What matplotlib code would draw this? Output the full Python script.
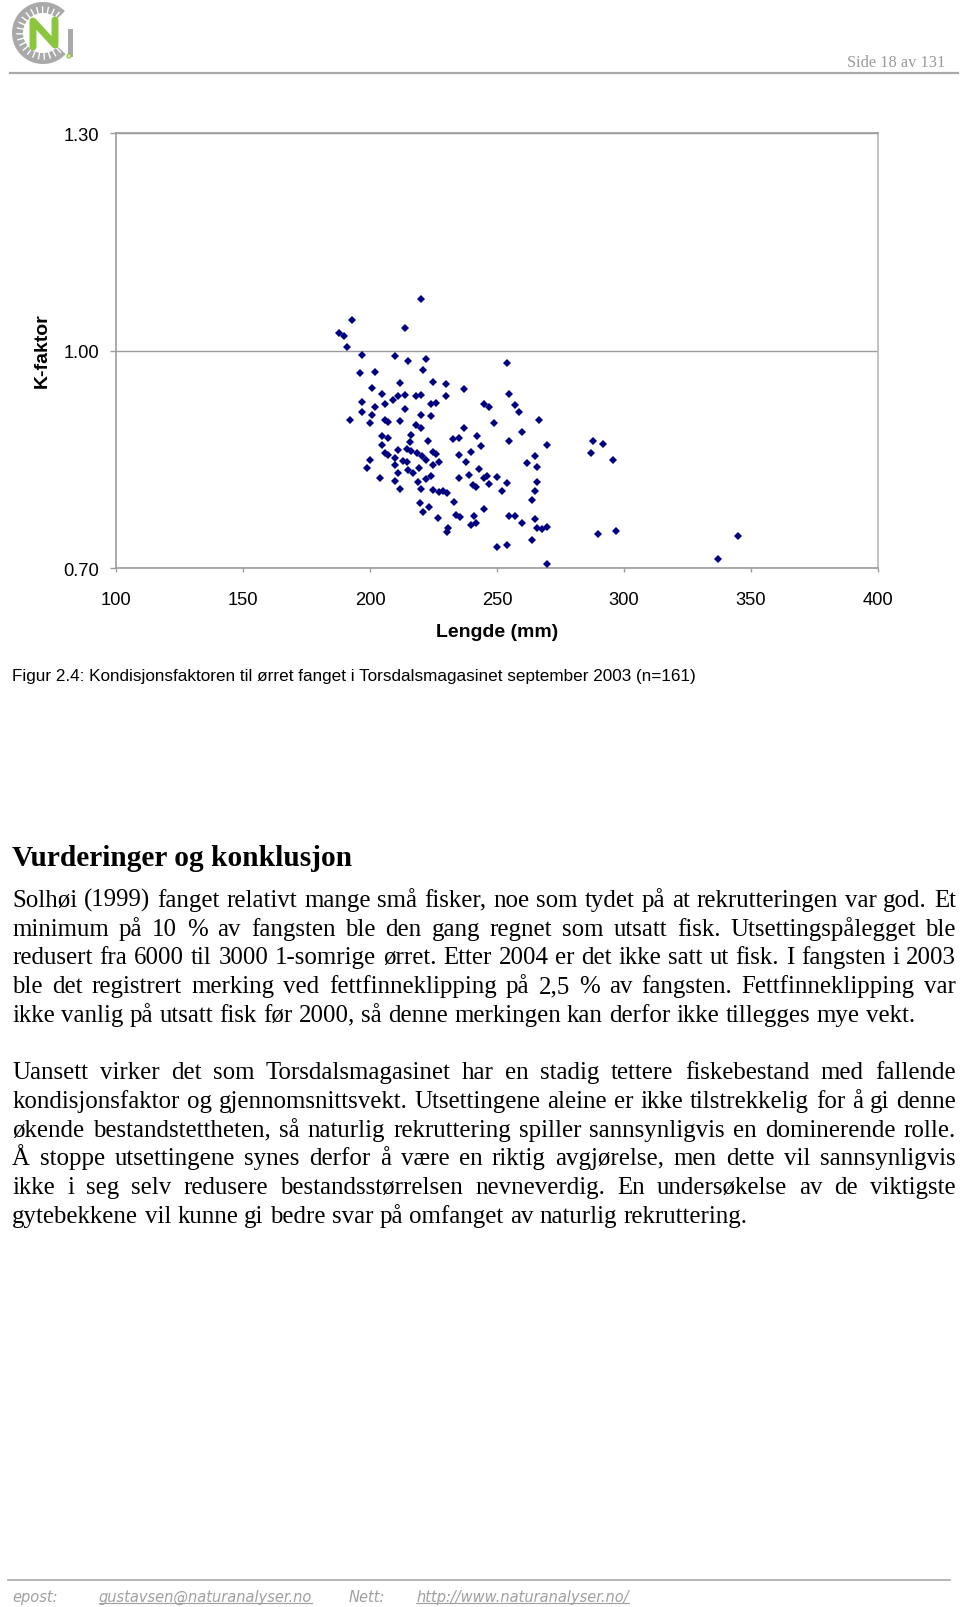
import matplotlib
matplotlib.use('Agg')
import matplotlib.pyplot as plt
from matplotlib.font_manager import FontProperties
from matplotlib.patches import Wedge, Rectangle, Circle
from matplotlib.lines import Line2D
import math

# ---------------- data ----------------
length_mm = [
    220.0, 192.9, 187.8, 189.9, 213.9, 191.0, 196.9, 210.0, 215.0, 222.0,
    196.0, 202.1, 220.9, 200.9, 211.8, 224.9, 229.8, 204.9, 210.9, 209.0,
    213.9, 218.1, 220.0, 229.8, 196.9, 205.9, 224.2, 226.0, 196.9, 202.1,
    213.9, 200.9, 220.0, 224.2, 192.0, 200.0, 206.0, 207.2, 211.8, 218.1,
    220.0, 204.9, 207.2, 204.9, 216.0, 215.8, 223.0, 214.7, 216.0, 218.4,
    220.4, 222.1, 210.9, 206.0, 207.2, 224.9, 226.0, 210.0, 200.0, 212.9,
    214.5, 227.1, 224.9, 210.0, 199.0, 215.0, 217.1, 219.2, 210.9, 204.0,
    222.1, 223.9, 210.0, 219.0, 212.0, 220.0, 224.9, 227.2, 228.9, 230.2,
    219.7, 223.1, 221.0, 226.9, 230.2, 253.8, 236.9, 254.9, 244.8, 247.0,
    257.0, 258.8, 249.0, 266.7, 236.9, 259.9, 232.8, 234.9, 242.0, 254.9,
    243.8, 269.8, 234.9, 239.9, 265.1, 237.9, 261.8, 265.9, 242.9, 234.9,
    238.9, 245.0, 246.1, 247.0, 240.7, 241.6, 250.0, 254.0, 265.9, 251.9,
    265.0, 233.0, 263.8, 233.8, 235.3, 245.0, 240.9, 239.9, 241.8, 254.9,
    257.0, 259.9, 265.0, 265.9, 267.9, 269.8, 230.7,
    263.8, 250.0, 254.0, 269.8,
    287.9, 291.9, 286.9, 295.8, 289.9, 296.9, 337.0, 345.0,
]
k_factor = [
    1.071, 1.043, 1.025, 1.021, 1.031, 1.005, 0.994, 0.993, 0.986, 0.988,
    0.970, 0.971, 0.974, 0.949, 0.956, 0.957, 0.954, 0.940, 0.937, 0.932,
    0.939, 0.937, 0.939, 0.937, 0.929, 0.927, 0.926, 0.928, 0.916, 0.922,
    0.919, 0.911, 0.911, 0.910, 0.905, 0.900, 0.904, 0.902, 0.903, 0.898,
    0.893, 0.883, 0.880, 0.870, 0.884, 0.874, 0.876, 0.865, 0.862, 0.859,
    0.855, 0.850, 0.863, 0.859, 0.856, 0.860, 0.857, 0.852, 0.850, 0.848,
    0.846, 0.847, 0.842, 0.842, 0.838, 0.836, 0.832, 0.838, 0.831, 0.825,
    0.823, 0.827, 0.821, 0.819, 0.809, 0.809, 0.808, 0.805, 0.807, 0.804,
    0.790, 0.785, 0.778, 0.770, 0.750, 0.983, 0.947, 0.941, 0.926, 0.922,
    0.925, 0.916, 0.901, 0.904, 0.894, 0.888, 0.878, 0.879, 0.882, 0.875,
    0.868, 0.870, 0.856, 0.861, 0.855, 0.846, 0.845, 0.840, 0.837, 0.825,
    0.828, 0.824, 0.827, 0.816, 0.815, 0.812, 0.826, 0.818, 0.819, 0.807,
    0.807, 0.791, 0.794, 0.774, 0.771, 0.782, 0.772, 0.760, 0.763, 0.772,
    0.772, 0.763, 0.768, 0.755, 0.754, 0.757, 0.755,
    0.739, 0.730, 0.732, 0.706,
    0.876, 0.872, 0.859, 0.849, 0.747, 0.752, 0.713, 0.745,
]
x_ticks = [100, 150, 200, 250, 300, 350, 400]
y_ticks = [0.70, 1.00, 1.30]
y_tick_labels = ['0.70', '1.00', '1.30']
x_label = 'Lengde (mm)'
y_label = 'K-faktor'
page_header = 'Side 18 av 131'
caption = ('Figur 2.4: Kondisjonsfaktoren til ørret fanget i Torsdalsmagasinet '
           'september 2003 (n=161)')
heading = 'Vurderinger og konklusjon'
para1_lines = [
    'Solhøi (1999) fanget relativt mange små fisker, noe som tydet på at rekrutteringen var god. Et',
    'minimum på 10 % av fangsten ble den gang regnet som utsatt fisk. Utsettingspålegget ble',
    'redusert fra 6000 til 3000 1-somrige ørret. Etter 2004 er det ikke satt ut fisk. I fangsten i 2003',
    'ble det registrert merking ved fettfinneklipping på 2,5 % av fangsten. Fettfinneklipping var',
    'ikke vanlig på utsatt fisk før 2000, så denne merkingen kan derfor ikke tillegges mye vekt.',
]
para2_lines = [
    'Uansett virker det som Torsdalsmagasinet har en stadig tettere fiskebestand med fallende',
    'kondisjonsfaktor og gjennomsnittsvekt. Utsettingene aleine er ikke tilstrekkelig for å gi denne',
    'økende bestandstettheten, så naturlig rekruttering spiller sannsynligvis en dominerende rolle.',
    'Å stoppe utsettingene synes derfor å være en riktig avgjørelse, men dette vil sannsynligvis',
    'ikke i seg selv redusere bestandsstørrelsen nevneverdig. En undersøkelse av de viktigste',
    'gytebekkene vil kunne gi bedre svar på omfanget av naturlig rekruttering.',
]
footer_items = ['epost:', 'gustavsen@naturanalyser.no', 'Nett:', 'http://www.naturanalyser.no/']

# ---------------- figure ----------------
W, H = 960, 1608
fig = plt.figure(figsize=(W / 100, H / 100), dpi=100)
fig.patch.set_facecolor('white')

def fx(x):
    return x / W

def fy(y):
    return 1 - y / H

SANS = ['Liberation Sans', 'DejaVu Sans']
SERIF = ['Liberation Serif', 'DejaVu Serif']
GRAY_AX = '#9c9c9c'

# overlay for page decorations (pixel coordinates)
deco = fig.add_axes([0, 0, 1, 1], zorder=-1)
deco.set_xlim(0, W)
deco.set_ylim(H, 0)
deco.axis('off')

# logo
cx, cy, r_out = 43, 34, 31
deco.add_patch(Wedge((cx, cy), r_out, 43, 315, width=11, facecolor='#a9a9a9', edgecolor='none'))
for ang in range(48, 315, 13):
    a = math.radians(ang)
    x0, y0 = cx + (r_out - 11) * math.cos(a), cy + (r_out - 11) * math.sin(a)
    x1, y1 = cx + (r_out - 5) * math.cos(a), cy + (r_out - 5) * math.sin(a)
    deco.add_line(Line2D([x0, x1], [y0, y1], color='white', lw=1.0))
deco.add_patch(Rectangle((68, 30), 5, 28, facecolor='#a9a9a9', edgecolor='none'))
deco.add_line(Line2D([33, 33, 55, 55], [48, 22, 46, 21], color='#8cc63f', lw=5.0,
                     solid_capstyle='round', solid_joinstyle='round'))
deco.add_patch(Circle((44, 34.5), 1.6, facecolor='white', edgecolor='#7a7a7a', lw=0.5))
deco.add_patch(Circle((69, 57), 2.0, facecolor='#d8e8b0', edgecolor='#8cc63f', lw=0.8))

# header / footer rules
deco.add_line(Line2D([10, 958], [74, 74], color='#a8a8a8', lw=1.6))
deco.add_line(Line2D([8, 950], [1580.5, 1580.5], color='#a8a8a8', lw=1.2))

# ---------------- chart ----------------
ax_l, ax_r, ax_t, ax_b = 116.3, 877.5, 134.2, 569.3
ax = fig.add_axes([fx(ax_l), fy(ax_b), (ax_r - ax_l) / W, (ax_b - ax_t) / H])
ax.plot(length_mm, k_factor, linestyle='none', marker='D', color='#000080',
        markersize=3.8, markeredgewidth=0, clip_on=False, zorder=3)
ax.set_xlim(100, 400)
ax.set_ylim(0.70, 1.30)
ax.set_xticks(x_ticks)
ax.set_xticklabels([str(t) for t in x_ticks])
ax.set_yticks(y_ticks)
ax.set_yticklabels(y_tick_labels)
for sp in ax.spines.values():
    sp.set_color(GRAY_AX)
    sp.set_linewidth(1.2)
ax.spines['right'].set_color('#b8b8b8')
ax.grid(axis='y', color=GRAY_AX, linewidth=1.0)
ax.set_axisbelow(True)
ax.tick_params(axis='y', direction='out', length=4.3, width=1, color=GRAY_AX, pad=8,
               labelsize=13.2)
ax.tick_params(axis='x', direction='out', length=3, width=1, color=GRAY_AX, pad=13,
               labelsize=13.2)
for lab in ax.get_xticklabels() + ax.get_yticklabels():
    lab.set_fontfamily(SANS)

fig.text(fx(497), fy(633), x_label, ha='center', va='center', fontsize=14,
         fontweight='bold', family=SANS)
fig.text(fx(42), fy(351), y_label, ha='center', va='center', fontsize=14,
         fontweight='bold', family=SANS, rotation=90)

# ---------------- text layout helpers ----------------
fig.canvas.draw()
renderer = fig.canvas.get_renderer()

def tw(s, fp):
    w, h, d = renderer.get_text_width_height_descent(s, fp, ismath=False)
    return w

def fit_size(s, family, target, weight='normal', style='normal', base=20.0):
    fp = FontProperties(family=family, size=base, weight=weight, style=style)
    return base * target / tw(s, fp)

def put(x, y_base, s, fp, color='black'):
    fig.text(fx(x), fy(y_base), s, fontproperties=fp, color=color, ha='left', va='baseline')

def put_line(line, y_base, left, right, fp, justify):
    words = line.split(' ')
    widths = [tw(wd, fp) for wd in words]
    if justify and len(words) > 1:
        gap = (right - left - sum(widths)) / (len(words) - 1)
    else:
        gap = tw('a a', fp) - tw('aa', fp)
    x = left
    for wd, wdt in zip(words, widths):
        put(x, y_base, wd, fp)
        x += wdt + gap

# page header text
hs = fit_size(page_header, SERIF, 98)
fp_h = FontProperties(family=SERIF, size=hs)
put(847, 61.5 + 0.33 * hs * 100 / 72, page_header, fp_h, color='#9a9a9a')

# caption
cs = fit_size(caption, SANS, 679)
fp_c = FontProperties(family=SANS, size=cs)
put(12.3, 675 + 0.36 * cs * 100 / 72, caption, fp_c)

# heading
hd = fit_size(heading, SERIF, 339.5, weight='bold')
fp_hd = FontProperties(family=SERIF, size=hd, weight='bold')
put(12.3, 856.4 + 0.33 * hd * 100 / 72, heading, fp_hd)

# body paragraphs
bs1 = fit_size(para1_lines[-1], SERIF, 902.6)
bs2 = fit_size(para2_lines[-1], SERIF, 735.4)
bs = (bs1 + bs2) / 2
fp_b = FontProperties(family=SERIF, size=bs)
off = 0.30 * bs * 100 / 72
left, right = 12.3, 955.9
p1_y = [899.5, 928.2, 956.9, 985.6, 1014.4]
p2_y = [1071.8, 1100.5, 1129.2, 1157.9, 1186.6, 1215.3]
for i, (line, yc) in enumerate(zip(para1_lines, p1_y)):
    put_line(line, yc + off, left, right, fp_b, justify=(i < len(para1_lines) - 1))
for i, (line, yc) in enumerate(zip(para2_lines, p2_y)):
    put_line(line, yc + off, left, right, fp_b, justify=(i < len(para2_lines) - 1))

# footer
FOOT = ['DejaVu Sans']
fs = fit_size(footer_items[1], FOOT, 213, style='italic')
fp_f = FontProperties(family=FOOT, size=fs, style='italic')
foot_x = [12.3, 98.5, 348.7, 416.4]
foot_base = 1597 + 0.36 * fs * 100 / 72
for i, (s, x) in enumerate(zip(footer_items, foot_x)):
    put(x, foot_base, s, fp_f, color='#a0a0a0')
    if i in (1, 3):
        w = tw(s, fp_f)
        deco.add_line(Line2D([x, x + w], [foot_base + 2, foot_base + 2], color='#a0a0a0', lw=0.8))

fig.savefig('out.png', dpi=100, facecolor='white')
